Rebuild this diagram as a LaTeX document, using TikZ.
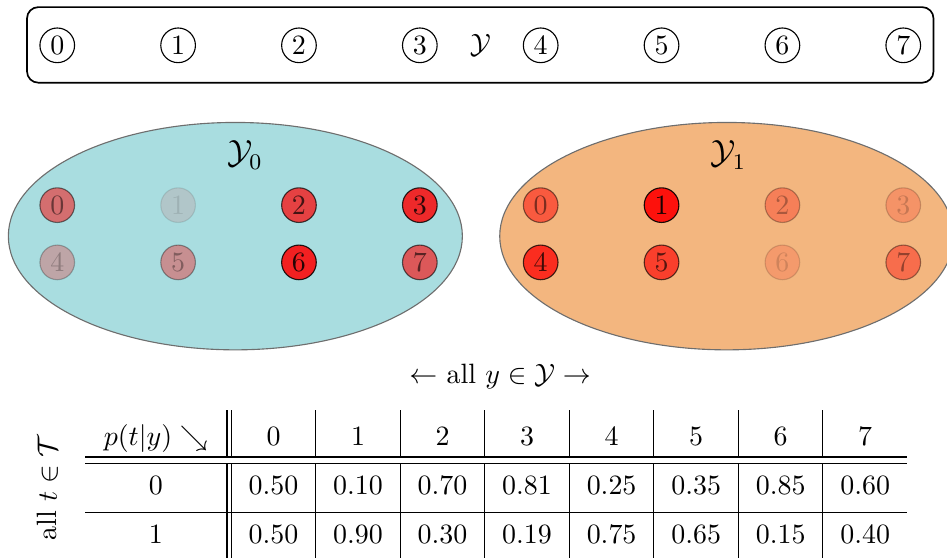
\documentclass[tikz,border=0pt]{standalone}
\usepackage{amsmath}
\usepackage{tikz}
\usetikzlibrary{shapes,positioning}
\definecolor{setcyan}{RGB}{169,221,224}
\definecolor{setorange}{RGB}{243,182,127}
\definecolor{setgray}{RGB}{110,110,110}

\begin{document}
\begin{tikzpicture}[
  num/.style={circle, draw, minimum size=12.4pt, inner sep=0pt},
  ydot/.style={circle, draw, fill=red, minimum size=12.4pt, inner sep=0pt, opacity=#1},
  subset/.style={ellipse, draw=setgray, minimum width=5.71cm, minimum height=2.86cm, inner sep=0pt},
  cell/.style={inner sep=0pt, text height=7pt, text depth=2.5pt},
  rule/.style={line width=0.4pt}
]
\useasboundingbox (0,0) rectangle (11.91,-7.02);

% All labels y
\draw[line width=0.6pt, rounded corners=4pt] (0.34,-0.09) rectangle (11.74,-1.04);
\node[num] (y0) at (0.72,-0.57) {0};
\node[num] (y1) at (2.24,-0.57) {1};
\node[num] (y2) at (3.76,-0.57) {2};
\node[num] (y3) at (5.28,-0.57) {3};
\node (ycal) at (6.04,-0.57) {$\mathcal{Y}$};
\node[num] (y4) at (6.80,-0.57) {4};
\node[num] (y5) at (8.32,-0.57) {5};
\node[num] (y6) at (9.84,-0.57) {6};
\node[num] (y7) at (11.36,-0.57) {7};

% Set Y_0
\node[subset, fill=setcyan] (set0) at (2.96,-2.97) {};
\node[font=\large] (lab0) at (3.08,-1.95) {$\mathcal{Y}_0$};
\node[ydot=0.50] (a0) at (0.72,-2.58) {0};
\node[ydot=0.10] (a1) at (2.24,-2.58) {1};
\node[ydot=0.70] (a2) at (3.76,-2.58) {2};
\node[ydot=0.81] (a3) at (5.28,-2.58) {3};
\node[ydot=0.25] (a4) at (0.72,-3.30) {4};
\node[ydot=0.35] (a5) at (2.24,-3.30) {5};
\node[ydot=0.85] (a6) at (3.76,-3.30) {6};
\node[ydot=0.60] (a7) at (5.28,-3.30) {7};

% Set Y_1
\node[subset, fill=setorange] (set1) at (9.14,-2.97) {};
\node[font=\large] (lab1) at (9.16,-1.95) {$\mathcal{Y}_1$};
\node[ydot=0.50] (b0) at (6.80,-2.58) {0};
\node[ydot=0.90] (b1) at (8.32,-2.58) {1};
\node[ydot=0.30] (b2) at (9.84,-2.58) {2};
\node[ydot=0.19] (b3) at (11.36,-2.58) {3};
\node[ydot=0.75] (b4) at (6.80,-3.30) {4};
\node[ydot=0.65] (b5) at (8.32,-3.30) {5};
\node[ydot=0.15] (b6) at (9.84,-3.30) {6};
\node[ydot=0.40] (b7) at (11.36,-3.30) {7};

% Table p(t|y)
\node (ally) at (6.29,-4.74) {$\leftarrow$ all $y \in \mathcal{Y} \rightarrow$};
\node[rotate=90] (allt) at (0.60,-6.13) {all $t \in \mathcal{T}$};

\node[cell] (hd) at (1.96,-5.52) {$p(t|y) \searrow$};
\node[cell] (h0) at (3.440,-5.52) {0};
\node[cell] (h1) at (4.503,-5.52) {1};
\node[cell] (h2) at (5.566,-5.52) {2};
\node[cell] (h3) at (6.629,-5.52) {3};
\node[cell] (h4) at (7.692,-5.52) {4};
\node[cell] (h5) at (8.755,-5.52) {5};
\node[cell] (h6) at (9.818,-5.52) {6};
\node[cell] (h7) at (10.881,-5.52) {7};

\node[cell] (t0) at (1.96,-6.14) {0};
\node[cell] (p00) at (3.440,-6.14) {0.50};
\node[cell] (p01) at (4.503,-6.14) {0.10};
\node[cell] (p02) at (5.566,-6.14) {0.70};
\node[cell] (p03) at (6.629,-6.14) {0.81};
\node[cell] (p04) at (7.692,-6.14) {0.25};
\node[cell] (p05) at (8.755,-6.14) {0.35};
\node[cell] (p06) at (9.818,-6.14) {0.85};
\node[cell] (p07) at (10.881,-6.14) {0.60};

\node[cell] (t1) at (1.96,-6.76) {1};
\node[cell] (p10) at (3.440,-6.76) {0.50};
\node[cell] (p11) at (4.503,-6.76) {0.90};
\node[cell] (p12) at (5.566,-6.76) {0.30};
\node[cell] (p13) at (6.629,-6.76) {0.19};
\node[cell] (p14) at (7.692,-6.76) {0.75};
\node[cell] (p15) at (8.755,-6.76) {0.65};
\node[cell] (p16) at (9.818,-6.76) {0.15};
\node[cell] (p17) at (10.881,-6.76) {0.40};

% rules
\draw[rule] (1.07,-5.748) -- (11.41,-5.748);
\draw[rule] (1.07,-5.824) -- (11.41,-5.824);
\draw[rule] (1.07,-6.440) -- (11.41,-6.440);
\draw[rule] (2.855,-5.157) -- (2.855,-5.748) (2.855,-5.824) -- (2.855,-7.02);
\draw[rule] (2.906,-5.157) -- (2.906,-5.748) (2.906,-5.824) -- (2.906,-7.02);
\draw[rule] (3.969,-5.157) -- (3.969,-5.748) (3.969,-5.824) -- (3.969,-7.02);
\draw[rule] (5.032,-5.157) -- (5.032,-5.748) (5.032,-5.824) -- (5.032,-7.02);
\draw[rule] (6.095,-5.157) -- (6.095,-5.748) (6.095,-5.824) -- (6.095,-7.02);
\draw[rule] (7.158,-5.157) -- (7.158,-5.748) (7.158,-5.824) -- (7.158,-7.02);
\draw[rule] (8.221,-5.157) -- (8.221,-5.748) (8.221,-5.824) -- (8.221,-7.02);
\draw[rule] (9.284,-5.157) -- (9.284,-5.748) (9.284,-5.824) -- (9.284,-7.02);
\draw[rule] (10.347,-5.157) -- (10.347,-5.748) (10.347,-5.824) -- (10.347,-7.02);

\end{tikzpicture}
\end{document}
